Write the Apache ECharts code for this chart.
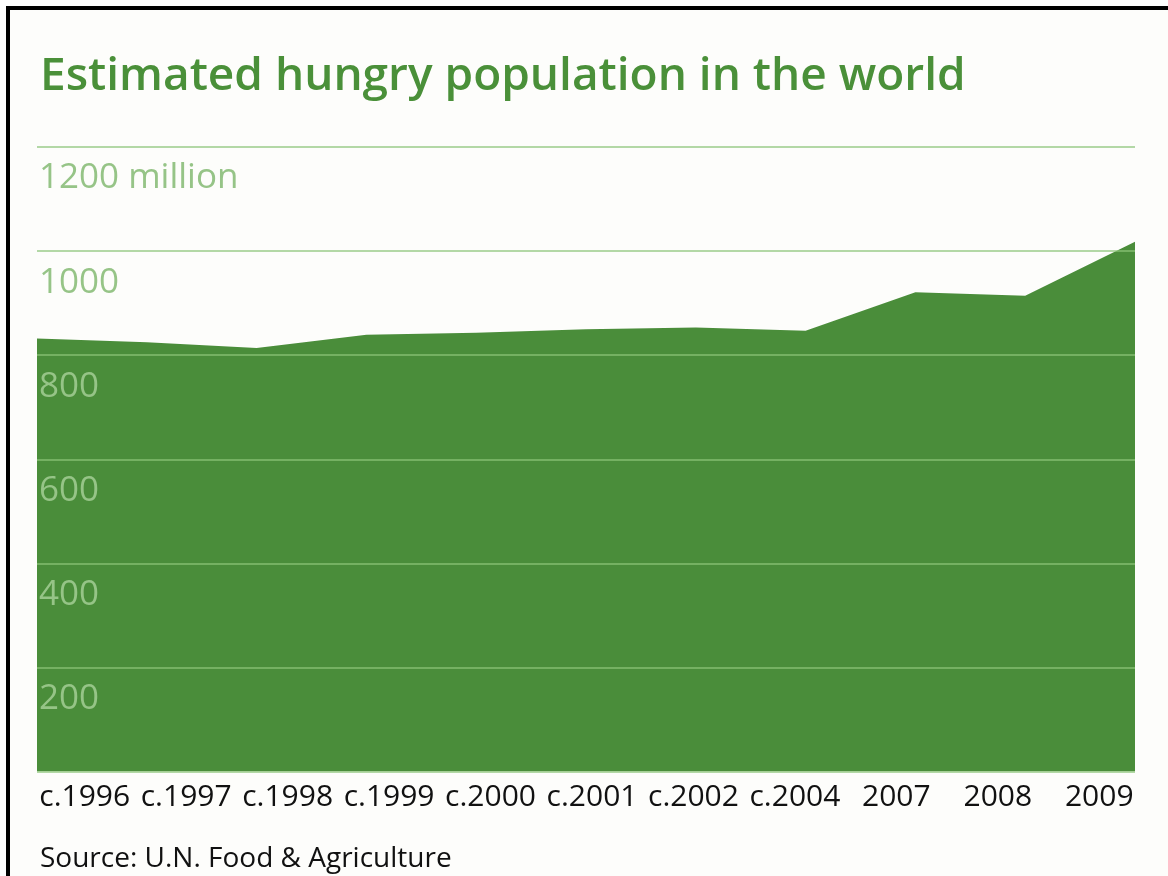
<!DOCTYPE html>
<html>
<head>
<meta charset="utf-8">
<script src="https://cdn.jsdelivr.net/npm/echarts@6/dist/echarts.min.js"></script>
<style>
  html, body { margin: 0; padding: 0; background: #ffffff; }
  #frame { position: absolute; left: 6px; top: 6px; width: 1162px; height: 870px;
           border-left: 4px solid #000; border-top: 4px solid #000; background: #fdfdfb; box-sizing: border-box; }
  #chart { position: absolute; left: 0; top: 0; width: 1168px; height: 876px; }
</style>
</head>
<body>
<div id="frame"></div>
<div id="chart"></div>
<script>
// Data
const categories = ['c.1996', 'c.1997', 'c.1998', 'c.1999', 'c.2000', 'c.2001', 'c.2002', 'c.2004', '2007', '2008', '2009'];
const hungryMillions = [832, 825, 814, 839, 843, 850, 853, 847, 921, 914, 1018];
const yTicks = { min: 0, max: 1200, interval: 200, topLabel: '1200 million' };
const titleText = 'Estimated hungry population in the world';
const sourceText = 'Source: U.N. Food & Agriculture';

const chart = echarts.init(document.getElementById('chart'), null, { renderer: 'canvas' });
const FONT = '"Open Sans", "Noto Sans", sans-serif';

chart.setOption({
  backgroundColor: 'transparent',
  animation: false,
  title: {
    text: titleText,
    left: 35,
    top: 49,
    textStyle: { color: '#4a9039', fontFamily: FONT, fontSize: 46, fontWeight: 600 }
  },
  graphic: [{
    type: 'text',
    left: 40,
    top: 845,
    style: { text: sourceText, fill: '#111', font: '28px ' + FONT }
  }],
  grid: [
    { left: 37, right: 33, top: 147, bottom: 104.5, containLabel: false },
    { left: 34, right: 18, top: 147, bottom: 104.5, containLabel: false }
  ],
  xAxis: [{
    type: 'category',
    gridIndex: 0,
    data: categories,
    boundaryGap: false,
    axisLine: { show: false },
    axisTick: { show: false },
    axisLabel: { show: false },
    splitLine: { show: false }
  }, {
    type: 'category',
    gridIndex: 1,
    data: categories,
    position: 'bottom',
    boundaryGap: true,
    axisLine: { show: false },
    axisTick: { show: false },
    splitLine: { show: false },
    axisLabel: {
      interval: 0,
      margin: 11,
      color: '#111',
      fontFamily: FONT,
      fontSize: 30
    }
  }],
  yAxis: [{
    type: 'value',
    gridIndex: 0,
    min: yTicks.min,
    max: yTicks.max,
    interval: yTicks.interval,
    z: 5,
    axisLine: { show: false },
    axisTick: { show: false },
    splitLine: { show: true, lineStyle: { color: 'rgba(140,196,120,0.65)', width: 2 } },
    axisLabel: {
      inside: true,
      margin: 2,
      align: 'left',
      verticalAlign: 'top',
      padding: [14, 0, 0, 0],
      color: '#96c487',
      fontFamily: FONT,
      fontSize: 35,
      formatter: function (v) {
        if (v === yTicks.min) return '';
        if (v === yTicks.max) return yTicks.topLabel;
        return String(v);
      }
    }
  }, {
    type: 'value',
    gridIndex: 1,
    show: false
  }],
  series: [{
    type: 'line',
    xAxisIndex: 0,
    yAxisIndex: 0,
    data: hungryMillions,
    symbol: 'none',
    z: 2,
    lineStyle: { width: 0 },
    areaStyle: { color: '#4a8d3a', opacity: 1 }
  }]
});
</script>
</body>
</html>
